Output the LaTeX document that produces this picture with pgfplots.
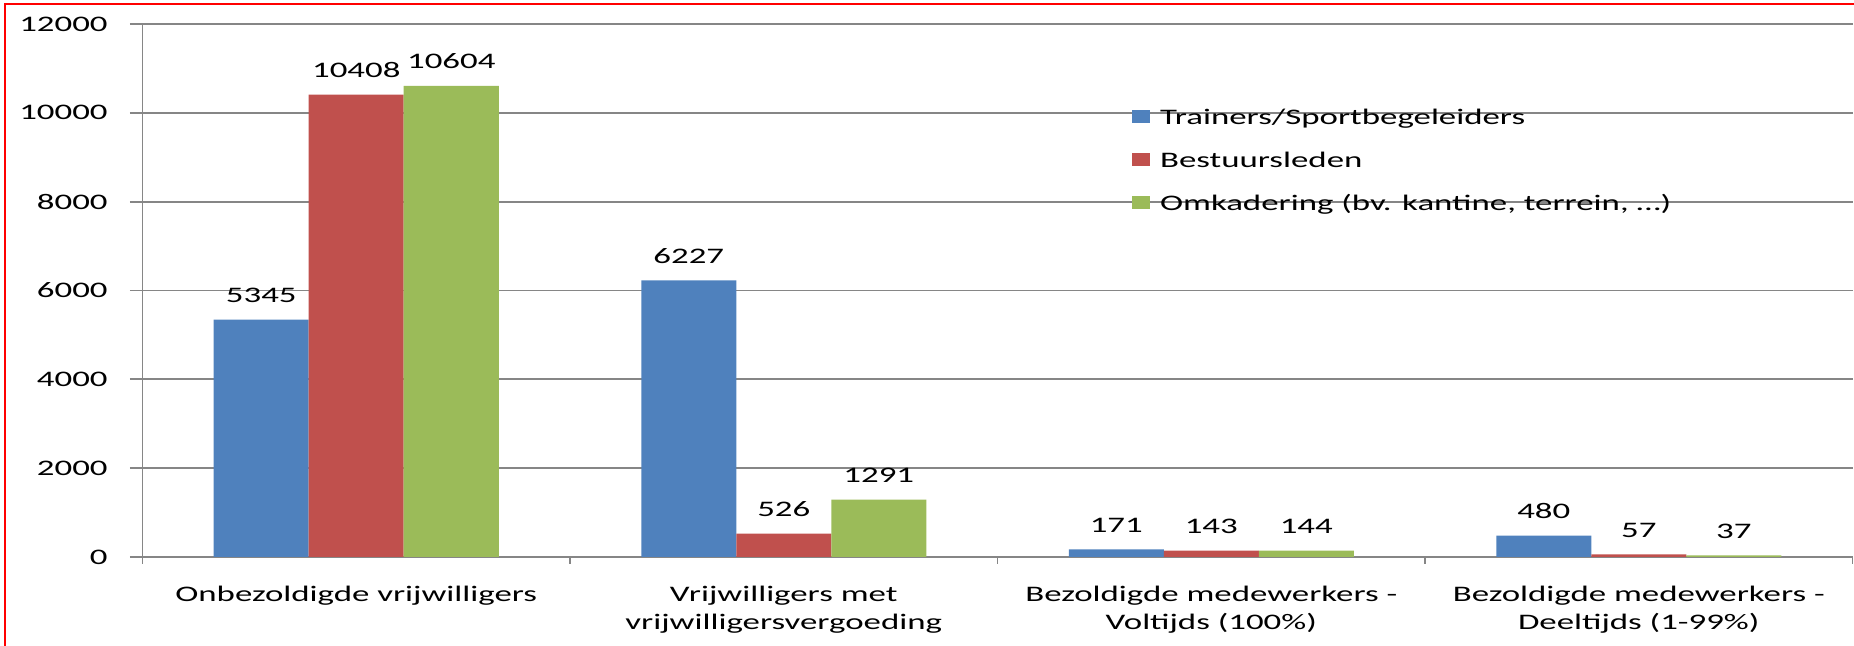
\documentclass[border=0pt]{standalone}
\usepackage{pgfplots}
\pgfplotsset{compat=1.18}
\usepackage{fontspec}
\setmainfont[FakeStretch=1.57]{Carlito}
\definecolor{cblue}{RGB}{79,129,189}
\definecolor{cred}{RGB}{192,80,77}
\definecolor{cgreen}{RGB}{155,187,89}
\definecolor{cgrid}{RGB}{134,134,134}
\newcommand\cf{\fontsize{11.1}{14}\selectfont}
\begin{document}
\begin{tikzpicture}
\path[use as bounding box] (-71.25pt,-44.5pt) rectangle (855.75pt,278.5pt);
\begin{axis}[
  at={(0,0)}, anchor=south west,
  scale only axis, width=855pt, height=266.5pt,
  font=\cf,
  ybar=0pt, bar width=47.5pt,
  xmin=-0.5, xmax=3.5, ymin=0, ymax=12000,
  scaled y ticks=false,
  axis x line*=bottom, axis y line*=left,
  axis line style={cgrid, line width=0.9pt, -},
  xtick={0,1,2,3},
  xticklabels={{Onbezoldigde vrijwilligers},{Vrijwilligers met\\vrijwilligersvergoeding},{Bezoldigde medewerkers -\\Voltijds (100\%)},{Bezoldigde medewerkers -\\Deeltijds (1-99\%)}},
  minor xtick={-0.5,0.5,1.5,2.5,3.5},
  ytick={0,2000,4000,6000,8000,10000,12000},
  ymajorgrids, grid style={cgrid, line width=0.9pt},
  tick align=outside,
  tick style={cgrid, line width=0.9pt},
  major tick length=6.25pt, minor tick length=3.5pt,
  major x tick style={draw=none},
  xticklabel style={font=\cf, align=center, anchor=north, inner sep=0pt, yshift=-8pt},
  yticklabel style={font=\cf, anchor=east, inner sep=0pt, xshift=-11pt},
  /pgf/number format/1000 sep={},
  /pgf/number format/assume math mode=true,
  nodes near coords,
  nodes near coords style={font=\cf, inner sep=0pt, anchor=south, yshift=8.25pt, text=black},
  legend style={draw=none, fill=none, inner sep=0pt, outer sep=0pt, font=\cf,
    at={(0.5787,0.839)}, anchor=north west, row sep=14.35pt, column sep=5pt,
    nodes={inner sep=0pt, text height=7.15pt, text depth=0pt}},
  legend cell align=left,
  legend image code/.code={\fill[#1] (0pt,-3.25pt) rectangle (9pt,3.25pt);},
]
\addplot[fill=cblue, draw=none] coordinates {(0,5345) (1,6227) (2,171) (3,480)};
\addplot[fill=cred, draw=none] coordinates {(0,10408) (1,526) (2,143) (3,57)};
\addplot[fill=cgreen, draw=none] coordinates {(0,10604) (1,1291) (2,144) (3,37)};
\legend{Trainers/Sportbegeleiders, Bestuursleden, {Omkadering (bv. kantine, terrein, \dots)}}
\end{axis}
\draw[red, line width=1pt] (-68.75pt,-44.5pt) -- (-68.75pt,276.5pt) -- (855.75pt,276.5pt);
\end{tikzpicture}
\end{document}
